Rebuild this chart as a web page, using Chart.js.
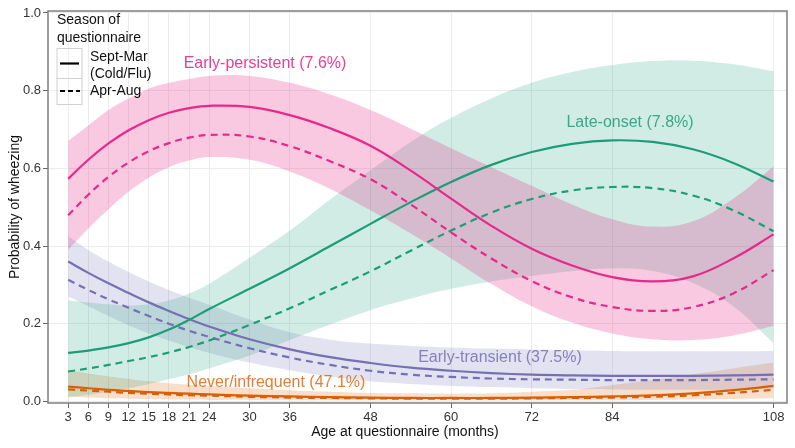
<!DOCTYPE html>
<html>
<head>
<meta charset="utf-8">
<script src="https://cdn.jsdelivr.net/npm/chart.js@4.4.1/dist/chart.umd.min.js"></script>
<style>
  html, body { margin: 0; padding: 0; background: #fff; }
  #wrap { width: 795px; height: 448px; }
</style>
</head>
<body>
<div id="wrap"><canvas id="chart" width="795" height="448"></canvas></div>
<script>
  /* ---- data -------------------------------------------------------------- */
  const ages = [3, 6, 9, 12, 15, 18, 21, 24, 30, 36, 42, 48, 54, 60, 66, 72, 78, 84, 90, 96, 102, 108];
  const xTicks = [3, 6, 9, 12, 15, 18, 21, 24, 30, 36, 48, 60, 72, 84, 108];
  const yTicks = [0, 0.2, 0.4, 0.6, 0.8, 1.0];

  // Early-persistent
  const persistentCold = [0.573, 0.622, 0.664, 0.698, 0.724, 0.743, 0.755, 0.761, 0.758, 0.737, 0.703, 0.658, 0.594, 0.522, 0.452, 0.393, 0.35, 0.32, 0.309, 0.322, 0.368, 0.43];
  const persistentWarm = [0.479, 0.532, 0.578, 0.615, 0.644, 0.665, 0.679, 0.686, 0.682, 0.657, 0.618, 0.572, 0.507, 0.435, 0.368, 0.31, 0.268, 0.243, 0.233, 0.243, 0.278, 0.338];
  const persistentHi = [0.67, 0.71, 0.75, 0.78, 0.805, 0.82, 0.83, 0.838, 0.838, 0.82, 0.79, 0.75, 0.702, 0.652, 0.603, 0.555, 0.507, 0.469, 0.45, 0.464, 0.522, 0.605];
  const persistentLo = [0.39, 0.445, 0.495, 0.54, 0.576, 0.603, 0.62, 0.629, 0.622, 0.592, 0.547, 0.492, 0.432, 0.368, 0.302, 0.245, 0.203, 0.175, 0.16, 0.158, 0.17, 0.195];

  // Late-onset
  const lateCold = [0.125, 0.131, 0.139, 0.15, 0.165, 0.185, 0.21, 0.238, 0.29, 0.343, 0.4, 0.457, 0.513, 0.565, 0.609, 0.642, 0.663, 0.672, 0.668, 0.649, 0.614, 0.566];
  const lateWarm = [0.077, 0.085, 0.094, 0.104, 0.114, 0.126, 0.14, 0.157, 0.197, 0.24, 0.287, 0.335, 0.388, 0.44, 0.486, 0.521, 0.543, 0.552, 0.549, 0.53, 0.492, 0.438];
  const lateHi = [0.26, 0.255, 0.25, 0.247, 0.25, 0.26, 0.278, 0.303, 0.37, 0.44, 0.52, 0.595, 0.668, 0.73, 0.78, 0.82, 0.848, 0.866, 0.876, 0.877, 0.868, 0.85];
  const lateLo = [0.01, 0.017, 0.025, 0.034, 0.045, 0.057, 0.07, 0.085, 0.118, 0.158, 0.198, 0.235, 0.265, 0.29, 0.309, 0.323, 0.335, 0.342, 0.336, 0.305, 0.245, 0.15];

  // Early-transient
  const transCold = [0.36, 0.331, 0.304, 0.279, 0.255, 0.233, 0.212, 0.193, 0.16, 0.134, 0.114, 0.099, 0.087, 0.079, 0.073, 0.069, 0.067, 0.066, 0.066, 0.066, 0.067, 0.069];
  const transWarm = [0.313, 0.287, 0.263, 0.241, 0.22, 0.2, 0.182, 0.166, 0.137, 0.113, 0.094, 0.079, 0.069, 0.063, 0.059, 0.057, 0.056, 0.055, 0.055, 0.055, 0.056, 0.057];
  const transHi = [0.425, 0.39, 0.36, 0.333, 0.309, 0.287, 0.267, 0.249, 0.211, 0.178, 0.159, 0.149, 0.143, 0.139, 0.136, 0.134, 0.132, 0.13, 0.129, 0.129, 0.129, 0.13];
  const transLo = [0.27, 0.245, 0.22, 0.196, 0.175, 0.157, 0.14, 0.125, 0.1, 0.08, 0.064, 0.052, 0.045, 0.04, 0.037, 0.034, 0.032, 0.031, 0.03, 0.03, 0.03, 0.032];

  // Never/infrequent
  const neverCold = [0.038, 0.034, 0.03, 0.027, 0.024, 0.022, 0.02, 0.018, 0.015, 0.013, 0.011, 0.01, 0.009, 0.009, 0.009, 0.01, 0.011, 0.013, 0.016, 0.021, 0.029, 0.04];
  const neverWarm = [0.031, 0.028, 0.025, 0.022, 0.02, 0.018, 0.016, 0.015, 0.012, 0.01, 0.009, 0.008, 0.007, 0.007, 0.007, 0.008, 0.009, 0.01, 0.012, 0.016, 0.022, 0.03];
  const neverHi = [0.08, 0.072, 0.065, 0.058, 0.052, 0.047, 0.043, 0.04, 0.034, 0.029, 0.025, 0.022, 0.021, 0.02, 0.021, 0.025, 0.03, 0.042, 0.055, 0.07, 0.085, 0.1];
  const neverLo = [0.012, 0.01, 0.008, 0.007, 0.006, 0.005, 0.005, 0.004, 0.004, 0.003, 0.003, 0.003, 0.003, 0.003, 0.003, 0.003, 0.003, 0.003, 0.004, 0.005, 0.006, 0.008];

  const FONT = "'Liberation Sans', Arial, sans-serif";

  /* ---- classes ----------------------------------------------------------- */
  const classes = [
    { label: "Early-persistent (7.6%)", color: "#E7298A", band: "rgba(231,41,138,0.25)", text: "rgba(231,41,138,0.9)",
      cold: persistentCold, warm: persistentWarm, hi: persistentHi, lo: persistentLo, lx: 265, ly: 64 },
    { label: "Late-onset (7.8%)", color: "#1B9E77", band: "rgba(27,158,119,0.2)", text: "rgba(27,158,119,0.85)",
      cold: lateCold, warm: lateWarm, hi: lateHi, lo: lateLo, lx: 630, ly: 123 },
    { label: "Early-transient (37.5%)", color: "#7570B3", band: "rgba(117,112,179,0.2)", text: "rgba(117,112,179,0.85)",
      cold: transCold, warm: transWarm, hi: transHi, lo: transLo, lx: 500, ly: 358 },
    { label: "Never/infrequent (47.1%)", color: "#D95F02", band: "rgba(217,95,2,0.2)", text: "rgba(217,95,2,0.8)",
      cold: neverCold, warm: neverWarm, hi: neverHi, lo: neverLo, lx: 276, ly: 383 },
  ];

  const pts = (arr) => ages.map((a, i) => ({ x: a, y: arr[i] }));

  const datasets = [];
  classes.forEach((c) => {
    datasets.push({ data: pts(c.hi), fill: "+1", backgroundColor: c.band, borderWidth: 0, pointRadius: 0, tension: 0.4, order: 10 });
    datasets.push({ data: pts(c.lo), fill: false, borderWidth: 0, pointRadius: 0, tension: 0.4, order: 10 });
  });
  classes.forEach((c) => {
    datasets.push({ data: pts(c.warm), borderColor: c.color, borderWidth: 2.2, borderDash: [7, 5], fill: false, pointRadius: 0, tension: 0.4, order: 1 });
    datasets.push({ data: pts(c.cold), borderColor: c.color, borderWidth: 2.2, fill: false, pointRadius: 0, tension: 0.4, order: 0 });
  });

  /* ---- overlay: frame, legend, titles, class labels ------------------------ */
  const overlay = {
    id: "overlay",
    afterDraw(chart) {
      const ctx = chart.ctx;
      const a = chart.chartArea;
      ctx.save();
      // panel border
      ctx.strokeStyle = "#7f7f7f";
      ctx.lineWidth = 1.5;
      ctx.strokeRect(a.left, a.top, a.right - a.left, a.bottom - a.top);

      // class labels
      ctx.font = "16px " + FONT;
      ctx.textAlign = "center";
      ctx.textBaseline = "middle";
      classes.forEach((c) => {
        ctx.fillStyle = c.text;
        ctx.fillText(c.label, c.lx, c.ly);
      });

      // axis titles
      ctx.fillStyle = "#111";
      ctx.font = "14px " + FONT;
      ctx.fillText("Age at questionnaire (months)", 405, 432);
      ctx.save();
      ctx.translate(15.5, 207);
      ctx.rotate(-Math.PI / 2);
      ctx.fillText("Probability of wheezing", 0, 0);
      ctx.restore();

      // legend
      ctx.textAlign = "left";
      ctx.fillStyle = "#111";
      ctx.fillText("Season of", 57, 20);
      ctx.fillText("questionnaire", 57, 38);
      ctx.strokeStyle = "#d0d0d0";
      ctx.lineWidth = 1;
      ctx.strokeRect(57, 48.5, 25, 30);
      ctx.strokeRect(57, 78.5, 25, 26);
      ctx.strokeStyle = "#000";
      ctx.lineWidth = 2.2;
      ctx.beginPath();
      ctx.moveTo(60, 63.5); ctx.lineTo(79, 63.5);
      ctx.stroke();
      ctx.setLineDash([5, 3]);
      ctx.beginPath();
      ctx.moveTo(60, 91); ctx.lineTo(80, 91);
      ctx.stroke();
      ctx.setLineDash([]);
      ctx.fillText("Sept-Mar", 90, 57);
      ctx.fillText("(Cold/Flu)", 90, 74);
      ctx.fillText("Apr-Aug", 90, 91);
      ctx.restore();
    },
  };

  new Chart(document.getElementById("chart"), {
    type: "line",
    data: { datasets },
    options: {
      responsive: false,
      animation: false,
      layout: { padding: { left: 0, top: 11, right: 8, bottom: 0 } },
      plugins: { legend: { display: false }, tooltip: { enabled: false } },
      scales: {
        x: {
          type: "linear",
          min: 0,
          max: 110,
          afterBuildTicks: (s) => { s.ticks = xTicks.map((v) => ({ value: v })); },
          afterFit: (s) => { s.height = 45; },
          ticks: { autoSkip: false, maxRotation: 0, color: "#333", padding: 2, font: { size: 13, family: FONT }, callback: (v) => String(v) },
          grid: { color: "#ececec", tickColor: "#666", tickLength: 5, lineWidth: 1 },
          border: { display: false },
        },
        y: {
          min: -0.004,
          max: 1.005,
          afterBuildTicks: (s) => { s.ticks = yTicks.map((v) => ({ value: v })); },
          afterFit: (s) => { s.width = 48; },
          ticks: { color: "#333", padding: 2, font: { size: 13, family: FONT }, callback: (v) => v.toFixed(1) },
          grid: { color: "#ececec", tickColor: "#666", tickLength: 5, lineWidth: 1 },
          border: { display: false },
        },
      },
    },
    plugins: [overlay],
  });
</script>
</body>
</html>
